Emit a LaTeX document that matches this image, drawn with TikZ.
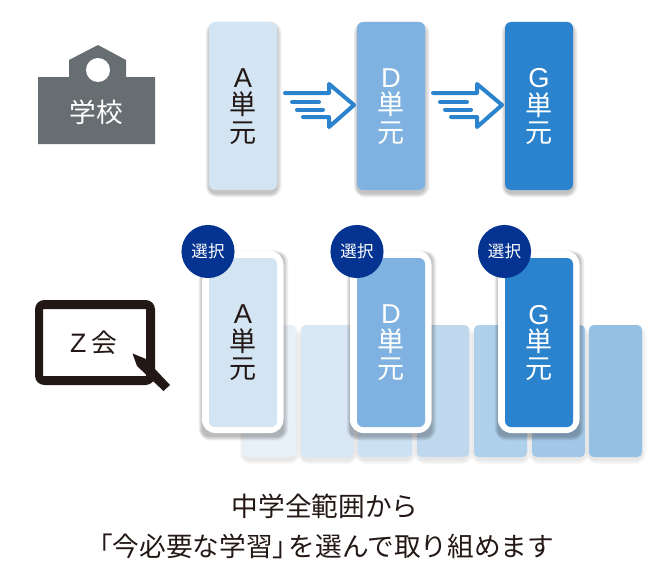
\documentclass[tikz,border=0pt]{standalone}
\usepackage{fontspec}
\setmainfont{Noto Sans CJK JP}
\newfontfamily\latinf{Liberation Sans}
\definecolor{cA}{HTML}{D3E4F3}
\definecolor{cD}{HTML}{7FB2E0}
\definecolor{cG}{HTML}{2A83CC}
\definecolor{school}{HTML}{676E71}
\definecolor{ink}{HTML}{231815}
\definecolor{navy}{HTML}{053391}
\definecolor{arrowblue}{HTML}{2A83CC}
\newcommand{\softshade}[5]{% x1 y1 x2 y2 strength
  \foreach \i in {0,1,...,7}{
    \fill[black,fill opacity=#5,rounded corners={5+\i*0.6}]
      ({#1+\i*0.1-\i*0.6},{#2+3.5-\i*0.6}) rectangle ({#3+\i*0.1+\i*0.6},{#4+3.5+\i*0.6});
  }}
\newcommand{\cardtext}[1]{{\latinf\fontsize{20.5}{20.6}\selectfont #1}\\単\\元}
\tikzset{
  x=0.75pt,y=-0.75pt,
  card/.style={draw=none,inner sep=0pt,font=\fontsize{20.3}{20.6}\selectfont,align=center,anchor=center,text width=51pt},
  badge/.style={circle,fill=navy,text=white,minimum size=39.8pt,inner sep=0pt,font=\fontsize{12.4}{12.4}\selectfont},
  flowline/.style={draw=arrowblue,line width=3pt,line cap=round,line join=round},
  caption/.style={font=\fontsize{20}{20}\selectfont,text=ink,inner sep=0pt},
}
\begin{document}
\begin{tikzpicture}
\useasboundingbox (0,0) rectangle (648,567);
\fill[white] (0,0) rectangle (648,567);
% school
\fill[school] (38,77) -- (69,77) -- (69,60) -- (98,45) -- (126,60) -- (126,77) -- (155,77) -- (155,144) -- (38,144) -- cycle;
\fill[white] (98,70) circle (12);
\node[text=white,font=\fontsize{20}{20}\selectfont,inner sep=0pt] (school) at (96,112) {学校};
% top cards
\softshade{209}{22}{277}{190}{0.03}
\softshade{357}{22}{425}{190}{0.03}
\softshade{505}{22}{573}{190}{0.03}
\fill[cA,rounded corners=4.5] (209,22) rectangle (277,190);
\fill[cD,rounded corners=4.5] (357,22) rectangle (425,190);
\fill[cG,rounded corners=4.5] (505,22) rectangle (573,190);
\node[card,text=ink] (a1) at (243,106.5) {\cardtext{A}};
\node[card,text=white] (d1) at (391,106.5) {\cardtext{D}};
\node[card,text=white] (g1) at (539,106.5) {\cardtext{G}};
% arrows
\foreach \dx in {0,148}{
  \begin{scope}[shift={(\dx,0)}]
  \draw[flowline] (285,93) -- (329,93) -- (329,84) -- (354,105) -- (329,127) -- (329,117) -- (303,117);
  \draw[flowline] (292,102) -- (319,102);
  \draw[flowline] (297,109.5) -- (323,109.5);
  \end{scope}
}
% tablet
\fill[ink,even odd rule,rounded corners=7] (35,300) rectangle (155,385) [sharp corners] (43,309) rectangle (146,376);
\fill[ink] (132.5,353.5) -- (145,358.5) -- (170,385) -- (163.5,391) -- (137,366) -- cycle;
\node[text=ink,inner sep=0pt,font=\fontsize{19.3}{19.3}\selectfont] (zk) at (93.5,343) {{\latinf\fontsize{20}{20}\selectfont Z}\hspace{3.5pt}会};
% background tiles
\foreach \xa/\xb/\col in {243/296/E8F0F8,301/354/D9E7F5,358/412/CBE0F3,417/469/BFD8EE,474/527/AFD0EB,532/585/A3C8E7,589/642/94C0E3}{
  \softshade{\xa}{325}{\xb}{457}{0.01}
  \definecolor{tc}{HTML}{\col}
  \fill[tc,rounded corners=3.5] (\xa,325) rectangle (\xb,457);
}
% selected cards
\foreach \xf/\xi/\col in {202/209/cA,350/357/cD,498/505/cG}{
  \softshade{\xf}{251}{\xf+81.5}{433}{0.035}
  \fill[white,rounded corners=10] (\xf,251) rectangle (\xf+81.5,433);
  \fill[\col,rounded corners=4.5] (\xi,258) rectangle (\xi+68,427);
}
\node[card,text=ink] (a2) at (243,343) {\cardtext{A}};
\node[card,text=white] (d2) at (391,343) {\cardtext{D}};
\node[card,text=white] (g2) at (539,343) {\cardtext{G}};
\node[badge] (ba) at (208,251.5) {選択};
\node[badge] (bd) at (357,251.5) {選択};
\node[badge] (bg) at (504.5,251.5) {選択};
% caption
\node[caption] (c1) at (325,506.5) {中学全範囲から};
\node[caption] (c2) at (320,546.5) {「今必要な学習」\hspace{-8pt}を選んで取り組めます};
\end{tikzpicture}
\end{document}
